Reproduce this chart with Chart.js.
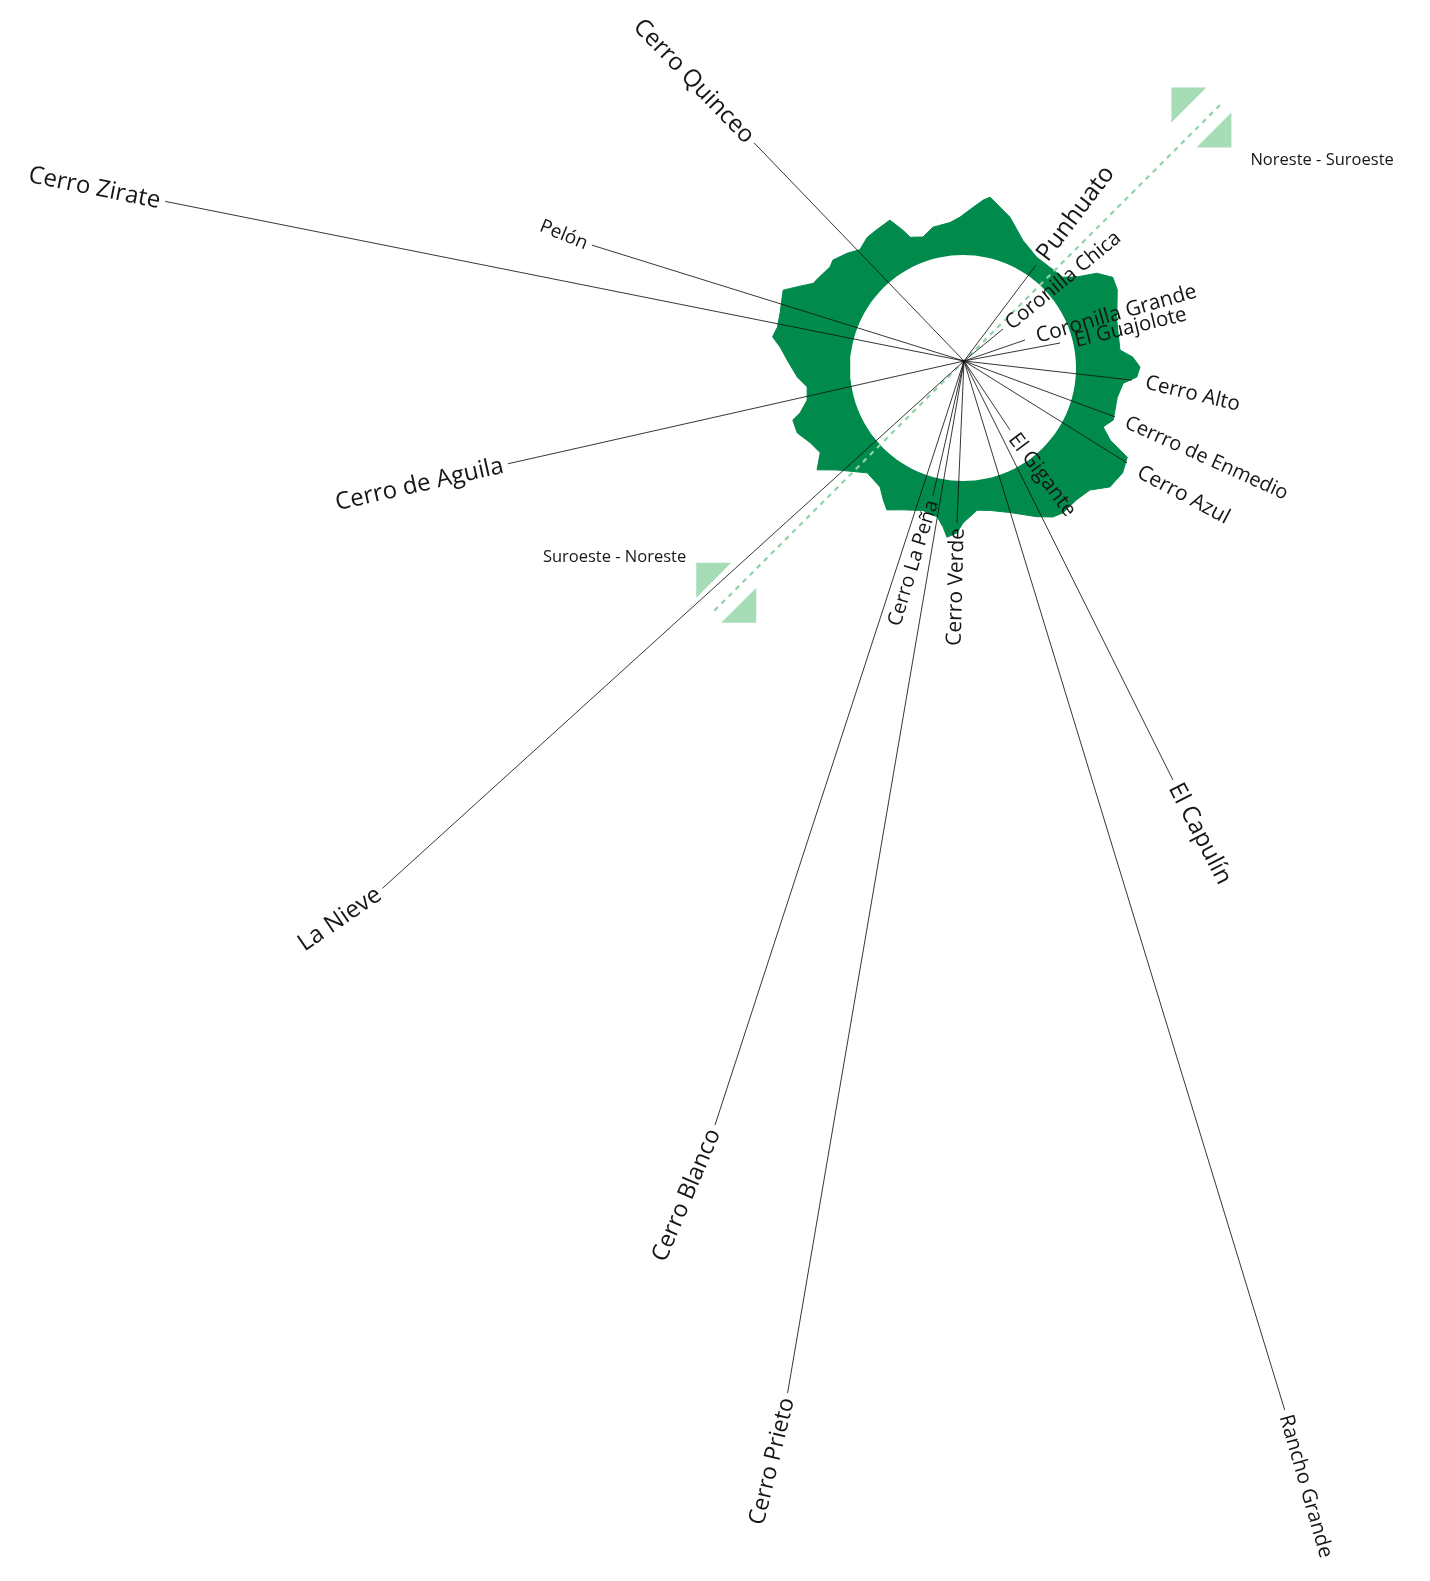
<!DOCTYPE html>
<html>
<head>
<meta charset="utf-8">
<script src="https://cdn.jsdelivr.net/npm/chart.js@4.4.1/dist/chart.umd.min.js"></script>
<style>
html,body{margin:0;padding:0;background:#fff;}
#wrap{width:1430px;height:1581px;position:relative;}
</style>
</head>
<body>
<div id="wrap"><canvas id="c" width="1430" height="1581"></canvas></div>
<script>
// ---------------- DATA ----------------
const mountains = ['Cerro Quinceo','Cerro Zirate','Pelón','Cerro de Aguila','La Nieve','Cerro Blanco','Cerro Prieto','Rancho Grande','El Capulín','Cerro Azul','Cerrro de Enmedio','Cerro Alto','El Guajolote','Coronilla Grande','Coronilla Chica','Punhuato','El Gigante','Cerro Verde','Cerro La Peña'];
// bearing in degrees clockwise from north
const bearings  = [316.1, 281.3, 287.3, 257.3, 227.8, 198.05, 189.7, 163.0, 153.5, 122.0, 110.3, 96.5, 79.4, 71.0, 50.6, 36.9, 146.3, 182.5, 193.0];
// relative distance (line length)
const distances = [302.7, 814.7, 389.7, 467.5, 785.1, 803.6, 1047, 1097, 468.2, 192.3, 161, 169, 97.7, 64.5, 50.4, 120, 82.9, 162.2, 138];

// horizon profile (outer edge of the green band)
const ringBearings = [3.6,6.8,9.0,17.3,25.1,33.7,40.7,47.7,51.4,54.7,58.8,63.1,72.7,83.5,86.3,89.7,93.0,95.4,100.7,109.1,112.8,116.1,118.5,123.3,129.0,133.9,139.2,145.4,148.9,153.6,162.0,169.2,174.4,180,182.1,185.4,187.2,189.9,195.7,202.9,208.2,211.2,214.9,222.4,231.0,235.1,239.3,243.9,248.6,253.0,254.6,258.4,263.1,266.9,272.6,276.5,279.3,282.4,286.7,293.4,296.0,299.5,302.5,307.2,309.7,314.8,318.9,323.8,328.1,333.7,336.5,338.0,343.0,348.0,354.9,358.9];
const ringRadii    = [161,169,173,158,141,133,133,135,146,164,175,173,161,158,170,177,174,161,157,159,152,164,187,191,189,176,174,176,174,166,152,145,143,155,165,170,160,151,148,154,161,154,145,142,162,178,166,170,178,178,169,159,157,166,176,184,193,190,191,196,185,172,170,167,169,163,157,162,163,165,150,141,137,144,146,151];
const innerRadius = 113;

const axisBearing = 45;
const axisLabels = ['Noreste - Suroeste', 'Suroeste - Noreste'];

// ---------------- STYLE / LAYOUT ----------------
const VIEW = {xmin:-964, xmax:466, ymin:-1220, ymax:361};
const ringOffset = {x:-1, y:-7};
const labelStyle = [
  {size:24,tilt:0,gap:5},{size:24,tilt:0,gap:5},{size:19,tilt:5,gap:5},{size:24,tilt:0,gap:5},{size:24,tilt:8,gap:5},
  {size:23.5,tilt:5,gap:5},{size:23,tilt:4,gap:5},{size:20.5,tilt:1,gap:5},{size:24,tilt:-1,gap:5},{size:21,tilt:-4,gap:14},
  {size:20,tilt:4,gap:12},{size:20.5,tilt:7,gap:14},{size:20.5,tilt:-3,gap:15},{size:21,tilt:3,gap:12},{size:20.5,tilt:0,gap:6},
  {size:24.5,tilt:0,gap:9},{size:21,tilt:-3,gap:6},{size:21,tilt:-1,gap:5},{size:20,tilt:4,gap:5}
];
const GREEN = '#008a4b', LIGHT = '#a6dcb6', DASH = '#8fd3a5';
const TEXT = '#161616';

const rad = d => d*Math.PI/180;
const polar = (b, r, o) => ({x: r*Math.sin(rad(b)) + (o?o.x:0), y: r*Math.cos(rad(b)) + (o?o.y:0)});

const datasets = [];
// radial lines
mountains.forEach((m,i)=>{
  datasets.push({label:m, data:[{x:0,y:0}, polar(bearings[i], distances[i])],
    showLine:true, borderColor:'rgba(20,20,20,0.85)', borderWidth:1, pointRadius:0, fill:false, order:1});
});
// dashed direction axis
const axisEnds = [362, -357];
datasets.push({label:'axis', data:[polar(axisBearing, axisEnds[0]), polar(axisBearing, axisEnds[1])],
  showLine:true, borderColor:DASH, borderWidth:2.2, borderDash:[5,5], pointRadius:0, fill:false, order:2});
// inner white circle
const circ = [];
for (let a=0; a<=360; a+=3) circ.push(polar(a, innerRadius, ringOffset));
datasets.push({label:'inner', data:circ, showLine:true, borderWidth:0, borderColor:'rgba(0,0,0,0)', backgroundColor:'#ffffff', pointRadius:0, fill:'shape', order:3});
// outer horizon profile
const ring = ringBearings.map((b,i)=>polar(b, ringRadii[i], ringOffset));
ring.push(ring[0]);
datasets.push({label:'ring', data:ring, showLine:true, borderWidth:1, borderColor:GREEN, backgroundColor:GREEN, pointRadius:0, fill:'shape', order:4});
// direction markers (split squares)
const markerDist = [340, -332];
const h = 30, L = 35;
markerDist.forEach(d=>{
  const c = polar(axisBearing, d); c.x -= 3; c.y += 3;
  const t1 = [{x:c.x-h,y:c.y+h},{x:c.x-h+L,y:c.y+h},{x:c.x-h,y:c.y+h-L},{x:c.x-h,y:c.y+h}];
  const t2 = [{x:c.x+h,y:c.y-h+L},{x:c.x+h,y:c.y-h},{x:c.x+h-L,y:c.y-h},{x:c.x+h,y:c.y-h+L}];
  [t1,t2].forEach(t=>datasets.push({label:'marker', data:t, showLine:true, borderWidth:0, borderColor:'rgba(0,0,0,0)', backgroundColor:LIGHT, pointRadius:0, fill:'shape', order:5}));
});

const labelPlugin = {
  id:'radialLabels',
  afterDatasetsDraw(chart){
    const {ctx, scales:{x, y}} = chart;
    const cx = x.getPixelForValue(0), cy = y.getPixelForValue(0);
    mountains.forEach((name,i)=>{
      const e = polar(bearings[i], distances[i]);
      const ex = x.getPixelForValue(e.x), ey = y.getPixelForValue(e.y);
      const th = Math.atan2(ey-cy, ex-cx);
      const st = labelStyle[i];
      const ax = ex + Math.cos(th)*st.gap, ay = ey + Math.sin(th)*st.gap;
      let rot = th, align = 'left';
      if (Math.cos(th) < -0.0001) { rot = th + Math.PI; align = 'right'; }
      rot += rad(st.tilt);
      ctx.save();
      ctx.translate(ax, ay);
      ctx.rotate(rot);
      ctx.font = st.size + 'px "Open Sans", "Noto Sans", sans-serif';
      ctx.textAlign = align;
      ctx.textBaseline = 'middle';
      ctx.fillStyle = TEXT;
      ctx.fillText(name, 0, 1);
      ctx.restore();
    });
    // axis labels next to markers
    ctx.save();
    ctx.font = '16.5px "Open Sans", "Noto Sans", sans-serif';
    ctx.fillStyle = TEXT;
    ctx.textBaseline = 'middle';
    const ne = polar(axisBearing, markerDist[0]);
    ctx.textAlign = 'left';
    ctx.fillText(axisLabels[0], x.getPixelForValue(ne.x)+46, y.getPixelForValue(ne.y)+40);
    const sw = polar(axisBearing, markerDist[1]);
    ctx.textAlign = 'right';
    ctx.fillText(axisLabels[1], x.getPixelForValue(sw.x)-43, y.getPixelForValue(sw.y)-38);
    ctx.restore();
  }
};

new Chart(document.getElementById('c'), {
  type:'scatter',
  data:{datasets},
  options:{
    responsive:false,
    animation:false,
    layout:{padding:0},
    scales:{
      x:{type:'linear', min:VIEW.xmin, max:VIEW.xmax, display:false},
      y:{type:'linear', min:VIEW.ymin, max:VIEW.ymax, display:false}
    },
    plugins:{legend:{display:false}, tooltip:{enabled:false}},
    elements:{line:{tension:0}}
  },
  plugins:[labelPlugin]
});
</script>
</body>
</html>
